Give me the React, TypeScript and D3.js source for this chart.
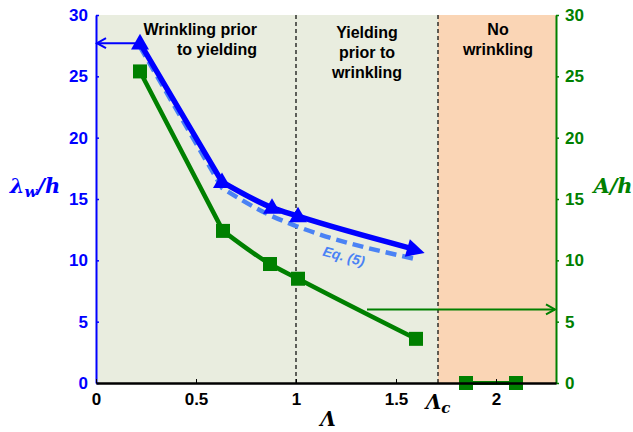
import React, { useRef, useEffect } from 'react'
import * as d3 from 'd3'

// data
const lamX = [0.22, 0.63, 0.88, 1.01, 1.6]
const lamW = [27.7, 16.4, 14.3, 13.6, 10.8]
const eqX = [0.22, 0.63, 0.88, 1.0, 1.6]
const eqW = [27.4, 15.9, 13.6, 12.8, 10.1]
const ampX = [0.22, 0.635, 0.87, 1.01, 1.6]
const ampA = [25.4, 12.4, 9.7, 8.5, 3.6]
const noWrinkleX = [1.85, 2.1]
const noWrinkleA = [0, 0]
const lambdaC = 1.71
const xTicks = [0, 0.5, 1, 1.5, 2]
const yTicks = [0, 5, 10, 15, 20, 25, 30]

const App = () => {
    const visEl = useRef(null)
    const width = 633
    const height = 432

    useEffect(() => {
        document.body.style.margin = '0'
        const svg = d3.select(visEl.current)
        svg.selectAll('*').remove()

        const x = d3.scaleLinear().domain([0, 2.3]).range([96, 556])
        const y = d3.scaleLinear().domain([0, 30]).range([383, 15])
        const blue = '#0000ff'
        const green = '#008000'
        const light = '#4a82f5'
        const font = "'Liberation Sans', Arial, sans-serif"
        const serif = "'DejaVu Serif', serif"

        // regions
        svg.append('rect').attr('x', x(0)).attr('y', y(30))
            .attr('width', x(lambdaC) - x(0)).attr('height', y(0) - y(30))
            .attr('fill', '#e9eddf')
        svg.append('rect').attr('x', x(lambdaC)).attr('y', y(30))
            .attr('width', x(2.3) - x(lambdaC)).attr('height', y(0) - y(30))
            .attr('fill', '#fad5b5')
        ;[1, lambdaC].forEach(v => {
            svg.append('line').attr('x1', x(v)).attr('x2', x(v))
                .attr('y1', y(30)).attr('y2', y(0))
                .attr('stroke', '#000').attr('stroke-width', 1.2)
                .attr('stroke-dasharray', '4,3')
        })

        // region labels
        const region = (lines, cx, y0, anchor) => {
            lines.forEach((t, i) => {
                svg.append('text').attr('x', cx).attr('y', y0 + i * 20)
                    .attr('text-anchor', anchor)
                    .attr('font-family', font).attr('font-weight', 'bold')
                    .attr('font-size', 16).attr('fill', '#000').text(t)
            })
        }
        region(['Wrinkling prior'], 257, 35, 'end')
        region(['to yielding'], 257, 55, 'end')
        region(['Yielding', 'prior to', 'wrinkling'], 367, 38, 'middle')
        region(['No', 'wrinkling'], 498, 35, 'middle')

        // straight first segment, smooth afterwards
        const straight = d3.line().x(d => x(d[0])).y(d => y(d[1]))
        const smooth = d3.line().x(d => x(d[0])).y(d => y(d[1])).curve(d3.curveMonotoneX)
        const path = pts => straight(pts.slice(0, 2)) + smooth(pts.slice(1)).replace(/^M/, 'L')

        // Eq. (5) dashed
        svg.append('path').attr('d', path(eqX.map((v, i) => [v, eqW[i]])))
            .attr('fill', 'none').attr('stroke', light).attr('stroke-width', 4.5)
            .attr('stroke-dasharray', '11,6')

        // wavelength
        const wPts = lamX.map((v, i) => [v, lamW[i]])
        svg.append('path').attr('d', path(wPts.slice(0, -1).concat([[wPts[4][0] - 0.03, wPts[4][1] + 0.2]])))
            .attr('fill', 'none').attr('stroke', blue).attr('stroke-width', 5.5)
        const tri = d3.symbol().type(d3.symbolTriangle).size(140)
        wPts.slice(0, -1).forEach(p => {
            svg.append('path').attr('d', tri())
                .attr('transform', `translate(${x(p[0])},${y(p[1]) + 1})`)
                .attr('fill', blue)
        })
        const a = wPts[3], b = wPts[4]
        const ang = Math.atan2(y(b[1]) - y(a[1]), x(b[0]) - x(a[0])) * 180 / Math.PI
        svg.append('path').attr('d', 'M9,0 L-9,-9 L-9,9 Z')
            .attr('transform', `translate(${x(b[0])},${y(b[1])}) rotate(${ang})`)
            .attr('fill', blue)

        // amplitude
        const aPts = ampX.map((v, i) => [v, ampA[i]])
        svg.append('path').attr('d', path(aPts))
            .attr('fill', 'none').attr('stroke', green).attr('stroke-width', 4.5)
        const nPts = noWrinkleX.map((v, i) => [v, noWrinkleA[i]])
        svg.append('path').attr('d', straight(nPts))
            .attr('fill', 'none').attr('stroke', green).attr('stroke-width', 4)
        aPts.concat(nPts).forEach(p => {
            svg.append('rect').attr('x', x(p[0]) - 7).attr('y', y(p[1]) - 7)
                .attr('width', 14).attr('height', 14).attr('fill', green)
        })

        // Eq. (5) label
        svg.append('text').attr('transform', `translate(${x(1.13)},${y(10.4)}) rotate(15)`)
            .attr('font-family', font).attr('font-weight', 'bold').attr('font-style', 'italic')
            .attr('font-size', 14).attr('fill', light).text('Eq. (5)')

        // axes
        const left = svg.append('g').attr('transform', `translate(${x(0)},0)`)
            .call(d3.axisLeft(y).tickValues(yTicks).tickSize(-3).tickPadding(8).tickSizeOuter(0))
        left.select('.domain').attr('stroke', blue).attr('stroke-width', 2)
        left.selectAll('.tick line').attr('stroke', blue).attr('stroke-width', 1.5)
        left.selectAll('.tick text').attr('fill', blue).attr('font-family', font)
            .attr('font-weight', 'bold').attr('font-size', 17)

        const right = svg.append('g').attr('transform', `translate(${x(2.3)},0)`)
            .call(d3.axisRight(y).tickValues(yTicks).tickSize(3).tickPadding(6).tickSizeOuter(0))
        right.select('.domain').attr('stroke', green).attr('stroke-width', 2)
        right.selectAll('.tick line').attr('stroke', green).attr('stroke-width', 1.5)
        right.selectAll('.tick text').attr('fill', green).attr('font-family', font)
            .attr('font-weight', 'bold').attr('font-size', 17)

        const bottom = svg.append('g').attr('transform', `translate(0,${y(0)})`)
            .call(d3.axisBottom(x).tickValues(xTicks).tickFormat(d3.format('')).tickSize(-4).tickPadding(10).tickSizeOuter(0))
        bottom.select('.domain').attr('stroke', '#000').attr('stroke-width', 2.5)
        bottom.selectAll('.tick text').attr('fill', '#000').attr('font-family', font)
            .attr('font-weight', 'bold').attr('font-size', 17)
        const lc = svg.append('text').attr('x', x(lambdaC)).attr('y', 409)
            .attr('text-anchor', 'middle').attr('font-family', serif)
            .attr('font-weight', 'bold').attr('font-style', 'italic').attr('font-size', 20)
        lc.append('tspan').text('Λ')
        lc.append('tspan').attr('font-size', 15).attr('dy', 4).text('c')

        // axis titles
        const lw = svg.append('text').attr('x', 35).attr('y', 193).attr('text-anchor', 'middle')
            .attr('font-family', serif).attr('font-weight', 'bold').attr('font-style', 'italic')
            .attr('font-size', 21).attr('fill', blue)
        lw.append('tspan').text('λ')
        lw.append('tspan').attr('font-size', 15).attr('dy', 4).text('w')
        lw.append('tspan').attr('dy', -4).text('/h')
        svg.append('text').attr('x', 613).attr('y', 193).attr('text-anchor', 'middle')
            .attr('font-family', serif).attr('font-weight', 'bold').attr('font-style', 'italic')
            .attr('font-size', 21).attr('fill', green).text('A/h')
        svg.append('text').attr('x', x(1.16)).attr('y', 426).attr('text-anchor', 'middle')
            .attr('font-family', serif).attr('font-weight', 'bold').attr('font-style', 'italic')
            .attr('font-size', 20).attr('fill', '#000').text('Λ')

        // pointer arrows
        const arrow = (x1, x2, yv, color) => {
            svg.append('line').attr('x1', x(x1)).attr('x2', x(x2)).attr('y1', y(yv)).attr('y2', y(yv))
                .attr('stroke', color).attr('stroke-width', 2)
            const dir = x2 < x1 ? 1 : -1
            svg.append('path')
                .attr('d', `M${x(x2) + dir * 9},${y(yv) - 5} L${x(x2)},${y(yv)} L${x(x2) + dir * 9},${y(yv) + 5}`)
                .attr('fill', 'none').attr('stroke', color).attr('stroke-width', 2)
        }
        arrow(0.2, 0.005, 27.7, blue)
        arrow(1.355, 2.295, 6.0, green)
    })

    return (
        <div>
            <svg ref={visEl} width={width} height={height} style={{ display: 'block' }}></svg>
        </div>
    )
}

export default App
